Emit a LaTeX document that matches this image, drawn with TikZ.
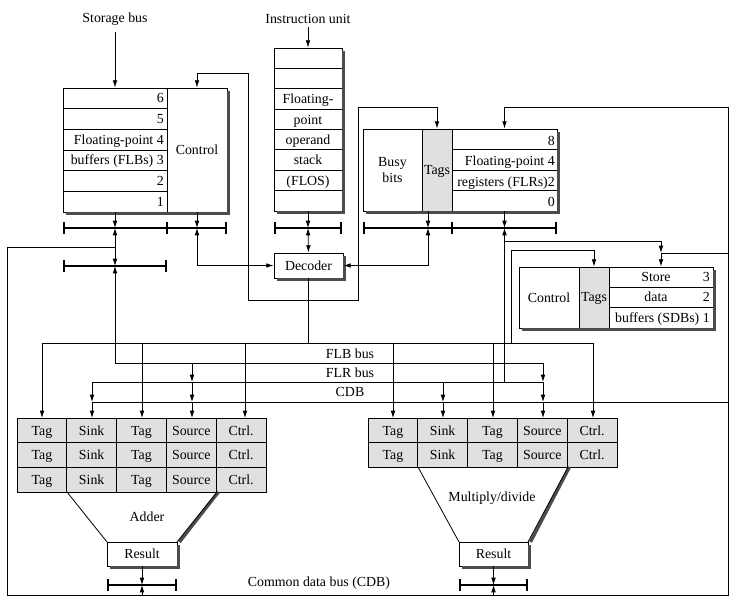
\documentclass[tikz,border=0pt]{standalone}
\usepackage{fontspec}
\setmainfont{Liberation Serif}
\usetikzlibrary{arrows.meta,fit}

\tikzset{
  box/.style={draw,fill=white,inner sep=0pt,line width=0.6pt},
  boxshadow/.style={fill=black!70},
  stipple/.style={fill=black!12},
  wire/.style={line width=0.6pt},
  feed/.style={wire,-{Latex[length=5.5pt,width=3.5pt]}},
  feedboth/.style={wire,{Latex[length=5.5pt,width=3.5pt]}-{Latex[length=5.5pt,width=3.5pt]}},
  busbar/.style={line width=1.6pt,{Bar[width=9pt]}-{Bar[width=9pt]}},
  txt/.style={inner sep=0pt,font=\fontsize{10.4}{12}\selectfont},
}

\begin{document}
\begin{tikzpicture}[x=0.75pt,y=-0.75pt]
\useasboundingbox (0,0) rectangle (740,608);

% floating-point buffers
\node[txt] (storage) at (115,19) {Storage bus};
\node[box,fit={(63,88) (167,212)}] (flbuf) {};
\node[box,fit={(167,88) (227,212)}] (flbctl) {};
\node[txt] at (flbctl.center) {Control};
\foreach \i in {1,...,5} \draw[wire] (63,{88+20.67*\i}) -- (167,{88+20.67*\i});
\foreach \t [count=\i] in {6,5,Floating-point 4,{buffers (FLBs) 3},2,1}
  \node[txt,anchor=mid east] at (164,{79+20.67*\i}) {\t};
\draw[busbar] (63,228) coordinate (flbbar) -- (227,228);
\draw[line width=1.6pt] (167,222) -- (167,234);
\draw[busbar] (63,266) coordinate (lowbar) -- (167,266);

% operand stack
\node[txt] (instr) at (308,19) {Instruction unit};
\node[box,fit={(274,48) (342,211)}] (flos) {};
\foreach \i in {1,...,7} \draw[wire] (274,{48+20.375*\i}) -- (342,{48+20.375*\i});
\foreach \t [count=\i from 3] in {Floating-,point,operand,stack,{(FLOS)}}
  \node[txt,anchor=mid] at (308,{39.5+20.375*\i}) {\t};
\draw[busbar] (274,228) coordinate (flosbar) -- (342,228);

% floating-point registers
\node[box,fit={(363,129) (422,211)}] (flrbusy) {};
\node[txt,align=center] at (flrbusy.center) {Busy\\bits};
\node[box,stipple,fit={(422,129) (452,211)}] (flrtags) {};
\node[txt,anchor=mid] at ([yshift=-1pt]flrtags.center) {Tags};
\node[box,fit={(452,129) (557,211)}] (flrregs) {};
\foreach \i in {1,2,3} \draw[wire] (452,{129+20.5*\i}) -- (557,{129+20.5*\i});
\foreach \t [count=\i] in {8,Floating-point 4,{registers (FLRs)2},0}
  \node[txt,anchor=mid east] at (555,{121.5+20.5*\i}) {\t};
\draw[busbar] (363,228) coordinate (flrbar) -- (557,228);
\draw[line width=1.6pt] (452,222) -- (452,234);

% decoder
\node[box,fit={(274,253) (343,278)}] (decoder) {};
\node[txt] at (decoder.center) {Decoder};

% store data buffers
\node[box,fit={(519,267) (579,328)}] (sdbctl) {};
\node[txt] at (sdbctl.center) {Control};
\node[box,stipple,fit={(579,267) (609,328)}] (sdbtags) {};
\node[txt,anchor=mid] at ([yshift=-1pt]sdbtags.center) {Tags};
\node[box,fit={(609,267) (713,328)}] (sdbdata) {};
\foreach \i in {1,2} \draw[wire] (609,{267+20.33*\i}) -- (713,{267+20.33*\i});
\node[txt,anchor=mid] at (656,278.5) {Store};
\node[txt,anchor=mid east] at (710,278.5) {3};
\node[txt,anchor=mid] at (656,298.5) {data};
\node[txt,anchor=mid east] at (710,298.5) {2};
\node[txt,anchor=mid east] at (710,319) {buffers (SDBs) 1};

% adder
\node[box,stipple,fit={(17,418) (266,492)}] (addrs) {};
\foreach \i in {1,2} \draw[wire] (17,{418+24.67*\i}) -- (266,{418+24.67*\i});
\foreach \i in {1,...,4} \draw[wire] ({17+49.8*\i},418) -- ({17+49.8*\i},492);
\foreach \r in {0,1,2}
  \foreach \t [count=\c] in {Tag,Sink,Tag,Source,Ctrl.}
    \node[txt,anchor=mid] at ({17+49.8*\c-24.9},{432+24.67*\r}) {\t};
\draw[wire] (67,492) -- (107,542);
\draw[line width=2.4pt,black!70] (218.5,492) -- (179.5,542);
\draw[wire] (217,492) -- (177,542);
\node[txt] (adder) at (147,517) {Adder};
\node[box,fit={(107,542) (177,566)}] (addres) {};
\node[txt] at (addres.center) {Result};
\draw[busbar] (107,585) coordinate (addbar) -- (177,585);

% multiply/divide
\node[box,stipple,fit={(368,418) (617,467)}] (mulrs) {};
\draw[wire] (368,442.5) -- (617,442.5);
\foreach \i in {1,...,4} \draw[wire] ({368+49.8*\i},418) -- ({368+49.8*\i},467);
\foreach \r in {0,1}
  \foreach \t [count=\c] in {Tag,Sink,Tag,Source,Ctrl.}
    \node[txt,anchor=mid] at ({368+49.8*\c-24.9},{432+24.5*\r}) {\t};
\draw[wire] (418,467) -- (459,542);
\draw[line width=2.4pt,black!70] (569.5,467) -- (530.5,542);
\draw[wire] (568,467) -- (528,542);
\node[txt] (muldiv) at (492,498) {Multiply/divide};
\node[box,fit={(459,542) (528,566)}] (mulres) {};
\node[txt] at (mulres.center) {Result};
\draw[busbar] (459,585) coordinate (mulbar) -- (528,585);

\node[txt] (cdblabel) at (319,583) {Common data bus (CDB)};

% shadows along the right and lower edges
\fill[boxshadow] (flbctl.north east) ++(0,3) rectangle ([shift={(3,3)}]flbctl.south east);
\fill[boxshadow] ([shift={(3,0)}]flbuf.south west) rectangle ([shift={(3,3)}]flbctl.south east);
\fill[boxshadow] (flos.north east) ++(0,3) rectangle ([shift={(3,3)}]flos.south east);
\fill[boxshadow] ([shift={(3,0)}]flos.south west) rectangle ([shift={(3,3)}]flos.south east);
\fill[boxshadow] (flrregs.north east) ++(0,3) rectangle ([shift={(3,3)}]flrregs.south east);
\fill[boxshadow] ([shift={(3,0)}]flrbusy.south west) rectangle ([shift={(3,3)}]flrregs.south east);
\fill[boxshadow] (decoder.north east) ++(0,3) rectangle ([shift={(3,3)}]decoder.south east);
\fill[boxshadow] ([shift={(3,0)}]decoder.south west) rectangle ([shift={(3,3)}]decoder.south east);
\fill[boxshadow] (sdbdata.north east) ++(0,3) rectangle ([shift={(3,3)}]sdbdata.south east);
\fill[boxshadow] ([shift={(3,0)}]sdbctl.south west) rectangle ([shift={(3,3)}]sdbdata.south east);
\fill[boxshadow] (addres.north east) ++(0,3) rectangle ([shift={(3,3)}]addres.south east);
\fill[boxshadow] ([shift={(3,0)}]addres.south west) rectangle ([shift={(3,3)}]addres.south east);
\fill[boxshadow] (mulres.north east) ++(0,3) rectangle ([shift={(3,3)}]mulres.south east);
\fill[boxshadow] ([shift={(3,0)}]mulres.south west) rectangle ([shift={(3,3)}]mulres.south east);

% connectors round the buffers, stack and registers
\draw[feed] (storage) ++(0,13) -- (flbuf.north);
\draw[feed] (instr) ++(0,8) -- (flos.north);
\draw[feed] (flbuf.south) -- (flbuf.south |- flbbar);
\draw[feed] (flbctl.south) -- (flbctl.south |- flbbar);
\draw[feedboth] (flbctl.south |- flbbar) |- (decoder.west);
\draw[feed] (flos.south) -- (flos.south |- flosbar);
\draw[feedboth] (flos.south |- flosbar) -- (decoder.north);
\draw[feed] (428,211) -- (428,228);
\draw[feedboth] (428,228) |- (decoder.east);
\draw[feed] (flrregs.south) -- (flrregs.south |- flrbar);
\draw[feedboth] (flbctl.north) -- (197,73) -| (248,300) -| (358,107) -| (flrtags.north);
\draw[wire] (decoder.south) -- (decoder.south |- 0,343);

% common data bus loop
\draw[feed] (7,247) -- (115,247) -- (115,228);
\draw[feed] (115,247) -- (lowbar -| 115,0);
\draw[wire] (7,247) |- (728,595) |- (flrregs.north |- 0,107);
\draw[feed] (flrregs.north |- 0,107) -- (flrregs.north);
\draw[feed] (728,253) -| (sdbdata.north);
\draw[feed] (flrregs.south |- 0,241) -| (sdbdata.north |- 0,253);
\draw[feed] (addres.south) -- (addres.south |- addbar);
\draw[feed] (addres.south |- 0,595) -- (addres.south |- addbar);
\draw[feed] (mulres.south) -- (mulres.south |- mulbar);
\draw[feed] (mulres.south |- 0,595) -- (mulres.south |- mulbar);

% buses
\draw[wire] (42,343) -- (593,343);
\draw[feed] (115,363) -- (115,266);
\draw[wire] (115,363) -- (543,363);
\draw[wire] (92,382) -- (543,382);
\draw[feed] (flrregs.south |- 0,382) -- (flrregs.south |- flrbar);
\draw[wire] (92,402) -- (728,402);
\draw[feed] (511,343) |- (sdbtags.north |- 0,250) -- (sdbtags.north);
\node[txt] (flbbus) at (350,354) {FLB bus};
\node[txt] (flrbus) at (350,373) {FLR bus};
\node[txt] (cdbbus) at (350,392) {CDB};

% drops to the reservation stations
\foreach \x in {42,142,245,393,493,593} \draw[feed] (\x,343) -- (\x,418);
\foreach \x in {92,443} {
  \draw[feed] (\x,382) -- (\x,402);
  \draw[feed] (\x,402) -- (\x,418);
}
\foreach \x in {192,543} {
  \draw[feed] (\x,363) -- (\x,382);
  \draw[feed] (\x,382) -- (\x,402);
  \draw[feed] (\x,402) -- (\x,418);
}
\end{tikzpicture}
\end{document}
